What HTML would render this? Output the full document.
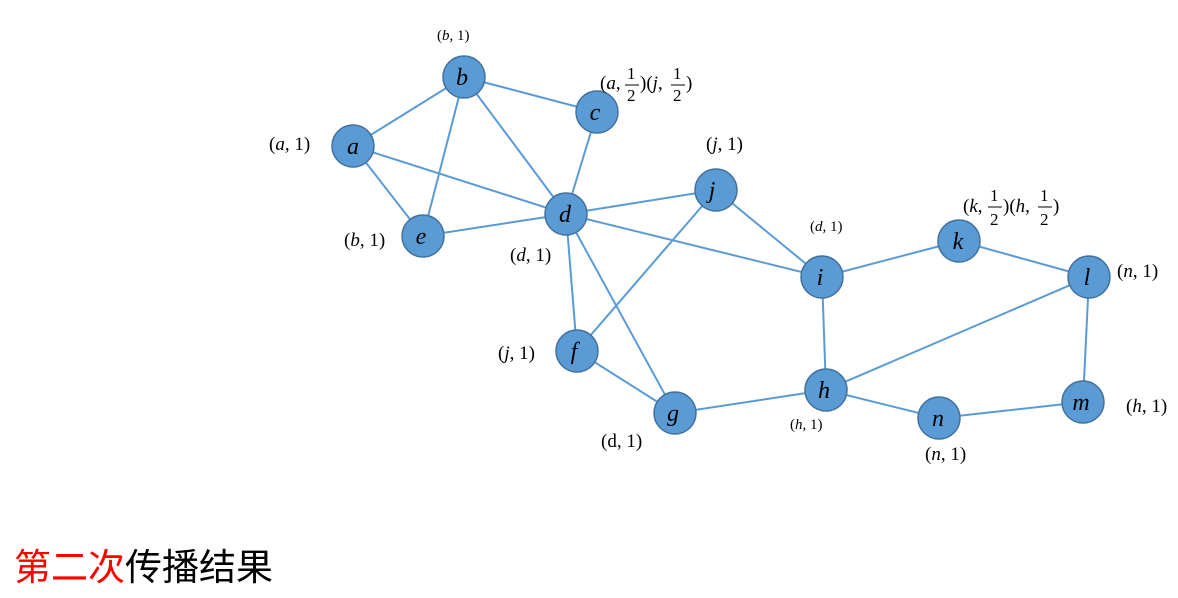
<!DOCTYPE html>
<html><head><meta charset="utf-8"><style>
body{margin:0;background:#fff;width:1178px;height:598px;overflow:hidden}
svg{position:absolute;left:0;top:0}
.t{font-family:"Liberation Serif",serif;font-size:19px;fill:#000}
.s{font-size:15px}
.f{font-size:17px}
.n{font-family:"Liberation Serif",serif;font-style:italic;font-size:24px;fill:#000;text-anchor:middle}
.cap{position:absolute;left:14px;top:544px;font-family:"Liberation Sans","Noto Sans CJK SC",sans-serif;font-size:37px;line-height:48px;color:#000}
</style></head><body>
<svg width="1178" height="598">
<g stroke="#5b9bd5" stroke-width="2">
<line x1="353" y1="146" x2="464" y2="77"/>
<line x1="353" y1="146" x2="423" y2="236"/>
<line x1="353" y1="146" x2="566" y2="214"/>
<line x1="464" y1="77" x2="423" y2="236"/>
<line x1="464" y1="77" x2="566" y2="214"/>
<line x1="464" y1="77" x2="597" y2="112"/>
<line x1="597" y1="112" x2="566" y2="214"/>
<line x1="566" y1="214" x2="423" y2="236"/>
<line x1="566" y1="214" x2="716" y2="190"/>
<line x1="566" y1="214" x2="822" y2="277"/>
<line x1="566" y1="214" x2="577" y2="351"/>
<line x1="566" y1="214" x2="675" y2="413"/>
<line x1="716" y1="190" x2="577" y2="351"/>
<line x1="716" y1="190" x2="822" y2="277"/>
<line x1="822" y1="277" x2="959" y2="241"/>
<line x1="822" y1="277" x2="826" y2="390"/>
<line x1="959" y1="241" x2="1089" y2="277"/>
<line x1="1089" y1="277" x2="826" y2="390"/>
<line x1="1089" y1="277" x2="1083" y2="402"/>
<line x1="577" y1="351" x2="675" y2="413"/>
<line x1="675" y1="413" x2="826" y2="390"/>
<line x1="826" y1="390" x2="939" y2="418"/>
<line x1="939" y1="418" x2="1083" y2="402"/>
</g>
<g fill="#5b9bd5" stroke="#41719c" stroke-width="1.5">
<circle cx="353" cy="146" r="21"/><circle cx="464" cy="77" r="21"/><circle cx="597" cy="112" r="21"/>
<circle cx="566" cy="214" r="21"/><circle cx="423" cy="236" r="21"/><circle cx="716" cy="190" r="21"/>
<circle cx="822" cy="277" r="21"/><circle cx="959" cy="241" r="21"/><circle cx="1089" cy="277" r="21"/>
<circle cx="577" cy="351" r="21"/><circle cx="675" cy="413" r="21"/><circle cx="826" cy="390" r="21"/>
<circle cx="939" cy="418" r="21"/><circle cx="1083" cy="402" r="21"/>
</g>
<g class="n">
<text x="353" y="154">a</text><text x="462" y="85">b</text><text x="595" y="120">c</text>
<text x="565" y="222">d</text><text x="421" y="244">e</text><text x="712" y="198">j</text>
<text x="820" y="285">i</text><text x="958" y="249">k</text><text x="1087" y="285">l</text>
<text x="574" y="359">f</text><text x="673" y="421">g</text><text x="824" y="398">h</text>
<text x="938" y="426">n</text><text x="1081" y="410">m</text>
</g>
<g class="t">
<text x="437" y="40" class="s">(<tspan font-style="italic">b</tspan>, 1)</text>
<text x="269" y="150">(<tspan font-style="italic">a</tspan>, 1)</text>
<text x="706" y="150">(<tspan font-style="italic">j</tspan>, 1)</text>
<text x="344" y="246">(<tspan font-style="italic">b</tspan>, 1)</text>
<text x="510" y="261">(<tspan font-style="italic">d</tspan>, 1)</text>
<text x="810" y="231" class="s">(<tspan font-style="italic">d</tspan>, 1)</text>
<text x="1117" y="277">(<tspan font-style="italic">n</tspan>, 1)</text>
<text x="498" y="359">(<tspan font-style="italic">j</tspan>, 1)</text>
<text x="601" y="447">(d, 1)</text>
<text x="790" y="429" class="s">(<tspan font-style="italic">h</tspan>, 1)</text>
<text x="925" y="460">(<tspan font-style="italic">n</tspan>, 1)</text>
<text x="1126" y="412">(<tspan font-style="italic">h</tspan>, 1)</text>
<text x="600" y="89">(<tspan font-style="italic">a</tspan>,</text>
<text x="627" y="79" class="f">1</text><line x1="625" y1="85" x2="639" y2="85" stroke="#000"/><text x="627" y="101" class="f">2</text>
<text x="640" y="89">)(<tspan font-style="italic">j</tspan>,</text>
<text x="673" y="79" class="f">1</text><line x1="671" y1="85" x2="685" y2="85" stroke="#000"/><text x="673" y="101" class="f">2</text>
<text x="686" y="89">)</text>
<text x="963" y="212">(<tspan font-style="italic">k</tspan>,</text>
<text x="990" y="201" class="f">1</text><line x1="988" y1="207" x2="1002" y2="207" stroke="#000"/><text x="990" y="225" class="f">2</text>
<text x="1003" y="212">)(<tspan font-style="italic">h</tspan>,</text>
<text x="1040" y="201" class="f">1</text><line x1="1038" y1="207" x2="1052" y2="207" stroke="#000"/><text x="1040" y="225" class="f">2</text>
<text x="1053" y="212">)</text>
</g>
</svg>
<div class="cap"><span style="color:#ff0000">第二次</span>传播结果</div>
</body></html>
